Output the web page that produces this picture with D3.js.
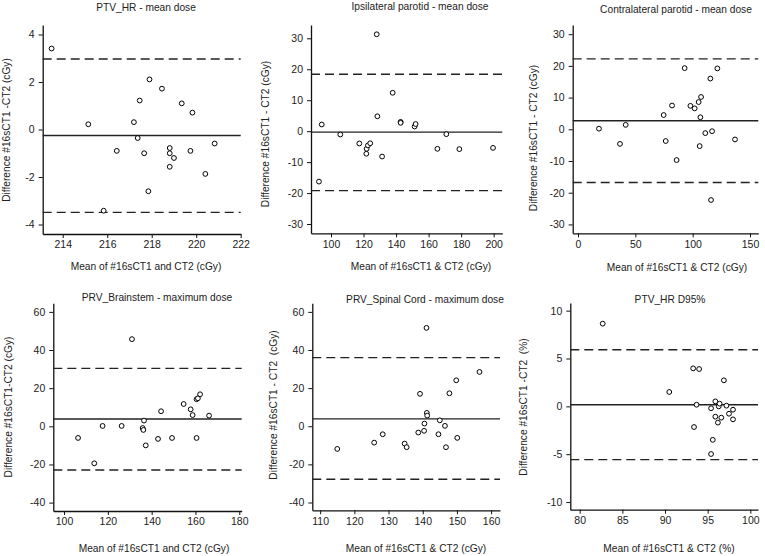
<!DOCTYPE html>
<html>
<head>
<meta charset="utf-8">
<script src="https://cdn.jsdelivr.net/npm/d3@7"></script>
<style>
  body { margin: 0; background: #fff; }
  svg { display: block; font-family: "Liberation Sans", Arial, sans-serif; }
</style>
</head>
<body>
<div class="canvas"></div>
<script>
// panel titles and axis labels
const titles = ['PTV_HR - mean dose', 'Ipsilateral parotid - mean dose', 'Contralateral parotid - mean dose',
    'PRV_Brainstem - maximum dose', 'PRV_Spinal Cord - maximum dose', 'PTV_HR D95%'];
const xLabels = ['Mean of #16sCT1 and CT2 (cGy)', 'Mean of #16sCT1 & CT2 (cGy)', 'Mean of #16sCT1 & CT2 (cGy)',
    'Mean of #16sCT1 and CT2 (cGy)', 'Mean of #16sCT1 & CT2 (cGy)', 'Mean of #16sCT1 & CT2 (%)'];
const yLabels = ['Difference #16sCT1 -CT2 (cGy)', 'Difference #16sCT1 - CT2 (cGy)', 'Difference #16sCT1 - CT2 (cGy)',
    'Difference #16sCT1-CT2 (cGy)', 'Difference #16sCT1 - CT2  (cGy)', 'Difference #16sCT1 -CT2  (%)'];

// tick labels
const xTicks = [[214,216,218,220,222], [100,120,140,160,180,200], [0,50,100,150],
    [100,120,140,160,180], [110,120,130,140,150,160], [80,85,90,95,100]];
const yTicks = [[-4,-2,0,2,4], [-30,-20,-10,0,10,20,30], [-30,-20,-10,0,10,20,30],
    [-40,-20,0,20,40,60], [-40,-20,0,20,40,60], [-10,-5,0,5,10]];

// series: mean of the two scans (x) and difference (y)
const p1Mean = [213.5,215.15,215.84,216.43,217.2,217.37,217.46,217.66,217.9,217.85,218.46,218.81,218.81,218.81,219.0,219.35,219.74,219.83,220.41,220.83];
const p1Diff = [3.41,0.22,-3.42,-0.9,0.31,-0.36,1.22,-1.0,2.11,-2.6,1.72,-0.78,-1.0,-1.57,-1.2,1.1,-0.9,0.71,-1.87,-0.59];

const p2Mean = [92.6,94.3,105.7,117.4,121.7,121.9,122.7,124.1,128.1,128.5,131.4,137.9,142.8,142.8,151.4,152.0,165.4,170.9,178.9,199.6];
const p2Diff = [-16.3,2.15,-1.08,-3.98,-7.3,-5.7,-4.6,-3.9,31.3,4.8,-8.2,12.4,3.0,2.7,1.5,2.3,-5.7,-0.97,-5.8,-5.4];

const p3Mean = [18.3,36.6,41.6,74.7,76.5,82.0,86.0,93.0,98.0,101.7,105.2,107.3,106.7,106.1,111.0,115.4,116.0,116.9,121.5,136.9];
const p3Diff = [0.2,-4.6,1.4,4.5,-3.7,7.5,-9.7,19.3,7.4,6.6,8.6,10.2,3.8,-5.3,-1.2,16.0,-22.3,-0.6,19.2,-3.2];

const p4Mean = [106.4,113.8,117.6,126.3,131.0,135.9,136.2,136.5,137.3,142.9,144.3,149.3,154.6,157.8,158.7,160.5,160.5,161.1,162.1,166.2];
const p4Diff = [-6.1,-19.4,0.2,0.2,45.7,-0.9,-1.9,3.0,-10.0,-6.6,7.9,-6.1,11.7,8.9,5.9,-6.1,14.2,14.7,16.8,5.6];

const p5Mean = [115.0,125.8,128.3,134.7,135.3,138.7,139.2,140.4,140.5,141.1,141.2,141.3,144.6,145.0,146.5,146.8,147.8,149.8,150.1,156.6];
const p5Diff = [-11.9,-8.6,-4.2,-9.1,-11.0,-3.3,17.0,-2.4,1.4,51.6,7.0,5.6,-4.2,3.1,0.2,-11.0,17.3,24.1,-6.1,28.5];

const p6Mean = [82.7,90.5,93.3,94.0,93.4,93.7,95.4,95.4,95.6,95.9,95.9,96.2,96.3,96.4,96.6,96.9,97.2,97.5,97.97,97.97];
const p6Diff = [8.64,1.5,3.97,3.9,-2.16,0.17,-0.2,-4.98,-3.5,0.52,-1.08,-1.7,0.0,0.28,-1.18,2.72,0.07,-0.77,-0.35,-1.36];

// bias, upper and lower limits of agreement
const p1Limits = [-0.25, 2.97, -3.49];
const p2Limits = [-0.32, 18.4, -19.2];
const p3Limits = [2.7, 22.2, -16.8];
const p4Limits = [3.85, 30.4, -22.9];
const p5Limits = [3.85, 36.0, -27.8];
const p6Limits = [0.17, 5.92, -5.57];

const means = [p1Mean, p2Mean, p3Mean, p4Mean, p5Mean, p6Mean];
const diffs = [p1Diff, p2Diff, p3Diff, p4Diff, p5Diff, p6Diff];
const limits = [p1Limits, p2Limits, p3Limits, p4Limits, p5Limits, p6Limits];

// frame of each panel: axis extents, domains and text anchors
const frames = [
    {l:42.7, r:240.7, t:25, b:234, xd:[213.1,222.0], yd:[-4.4,4.4], tx:146, ty:11, lx:146, ly:269.5, yx:6, yy:130},
    {l:311, r:502.3, t:25, b:233.3, xd:[87.7,205.3], yd:[-33.0,34.3], tx:420, ty:10, lx:421, ly:269.5, yx:265, yy:134},
    {l:572.7, r:758.3, t:25, b:233.3, xd:[-4.6,157.2], yd:[-32.8,32.9], tx:676, ty:13, lx:677, ly:270.5, yx:533, yy:138},
    {l:53.3, r:241.7, t:303.3, b:511, xd:[95.1,181.1], yd:[-44.4,64.5], tx:157, ty:300.5, lx:154, ly:551.5, yx:8, yy:407},
    {l:312.3, r:500, t:303.3, b:510.3, xd:[107.7,162.6], yd:[-44.1,64.5], tx:425, ty:302.5, lx:416, ly:551.5, yx:273, yy:405},
    {l:570.3, r:758, t:303, b:509.7, xd:[78.9,100.9], yd:[-10.8,10.8], tx:670, ty:302.5, lx:669, ly:551.5, yx:523, yy:407}
];

const svg = d3.select('.canvas')
    .append('svg')
        .attr('width', 765)
        .attr('height', 556);

svg.append('rect').attr('width', 765).attr('height', 556).attr('fill', '#fff');

frames.forEach((f, i) => {
    const g = svg.append('g');

    const x = d3.scaleLinear().domain(f.xd).range([f.l, f.r]);
    const y = d3.scaleLinear().domain(f.yd).range([f.b, f.t]);

    // axes
    const xAxis = d3.axisBottom(x)
        .tickValues(xTicks[i])
        .tickSize(4)
        .tickSizeOuter(0)
        .tickPadding(3)
        .tickFormat(d => String(d));
    const yAxis = d3.axisLeft(y)
        .tickValues(yTicks[i])
        .tickSize(4)
        .tickSizeOuter(0)
        .tickPadding(4)
        .tickFormat(d => String(d));

    const gx = g.append('g').attr('transform', `translate(0,${f.b})`).call(xAxis);
    const gy = g.append('g').attr('transform', `translate(${f.l},0)`).call(yAxis);

    [gx, gy].forEach(a => {
        a.select('.domain').attr('stroke', '#111').attr('stroke-width', 1.3);
        a.selectAll('.tick line').attr('stroke', '#111').attr('stroke-width', 1);
        a.selectAll('.tick text')
            .attr('fill', '#222')
            .style('font-size', '10.5px')
            .style('font-family', '"Liberation Sans", Arial, sans-serif');
    });

    // bias line and limits of agreement
    const lim = limits[i];
    g.append('line')
        .attr('x1', f.l).attr('x2', f.r)
        .attr('y1', y(lim[0])).attr('y2', y(lim[0]))
        .attr('stroke', '#222').attr('stroke-width', 1.4);
    g.selectAll('line.loa').data(lim.slice(1))
        .enter()
        .append('line')
            .attr('class', 'loa')
            .attr('x1', f.l).attr('x2', f.r)
            .attr('y1', d => y(d)).attr('y2', d => y(d))
            .attr('stroke', '#222')
            .attr('stroke-width', 1.4)
            .attr('stroke-dasharray', '9,5');

    // points
    const pts = means[i].map((m, k) => ({m: m, d: diffs[i][k]}));
    g.selectAll('circle').data(pts)
        .enter()
        .append('circle')
            .attr('cx', d => x(d.m))
            .attr('cy', d => y(d.d))
            .attr('r', 2.4)
            .attr('fill', '#fff')
            .attr('stroke', '#000')
            .attr('stroke-width', 1);

    // texts
    g.append('text')
        .attr('x', f.tx).attr('y', f.ty)
        .attr('text-anchor', 'middle')
        .attr('fill', '#222')
        .style('font-size', '10.2px')
        .text(titles[i]);

    g.append('text')
        .attr('x', f.lx).attr('y', f.ly)
        .attr('text-anchor', 'middle')
        .attr('fill', '#222')
        .style('font-size', '10.2px')
        .text(xLabels[i]);

    g.append('text')
        .attr('transform', `translate(${f.yx + 3.5},${f.yy}) rotate(-90)`)
        .attr('text-anchor', 'middle')
        .attr('fill', '#222')
        .style('font-size', '10.2px')
        .style('white-space', 'pre')
        .text(yLabels[i]);
});
</script>
</body>
</html>
